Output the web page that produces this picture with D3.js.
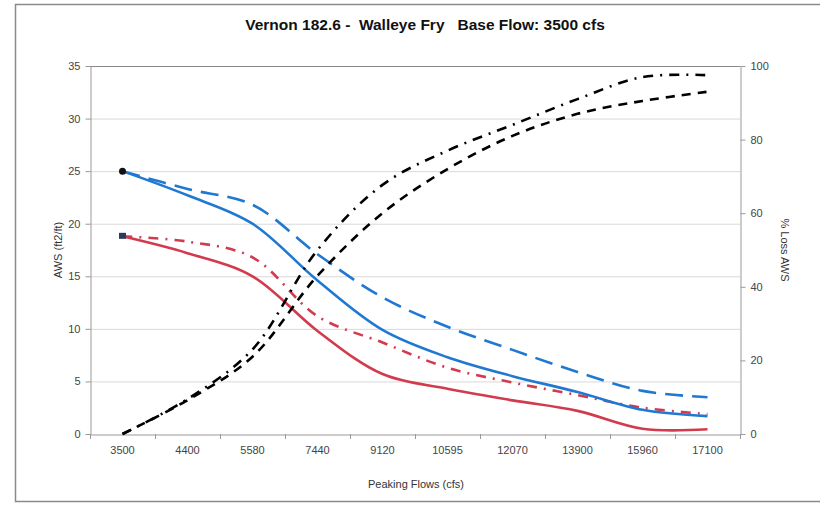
<!DOCTYPE html>
<html>
<head>
<meta charset="utf-8">
<script src="https://cdn.jsdelivr.net/npm/d3@7/dist/d3.min.js"></script>
<style>
  body { margin: 0; background: #fff; }
  svg { display: block; font-family: "Liberation Sans", Arial, sans-serif; }
</style>
</head>
<body>
<svg id="chart" width="820" height="506"></svg>
<script>
const categories = ["3500","4400","5580","7440","9120","10595","12070","13900","15960","17100"];
const awsSolidBlue  = [25, 22.7, 20.0, 14.6, 9.9, 7.3, 5.5, 4.0, 2.3, 1.7];
const awsDashBlue   = [25, 23.3, 21.8, 17.1, 13.0, 10.2, 8.0, 5.9, 4.1, 3.5];
const awsSolidRed   = [18.8, 17.2, 15.0, 9.8, 5.7, 4.3, 3.2, 2.2, 0.5, 0.45];
const awsDashDotRed = [18.8, 18.3, 16.8, 11.2, 8.7, 6.3, 4.9, 3.7, 2.5, 1.9];
const lossDashed    = [0, 9.2, 21, 43, 60, 72, 81, 87, 90.5, 93];
const lossDashDot   = [0, 9.5, 23, 50, 67.7, 77, 84, 91, 97, 97.5];
const leftTicks  = [0, 5, 10, 15, 20, 25, 30, 35];
const rightTicks = [0, 20, 40, 60, 80, 100];

const svg = d3.select("#chart");
const m = {l: 90, r: 740, t: 66, b: 434};

// outer frame
svg.append("rect").attr("x", 15.5).attr("y", 4.5).attr("width", 820).attr("height", 497)
  .attr("fill", "none").attr("stroke", "#8a8a8a").attr("stroke-width", 1.5);

const x = d3.scaleBand().domain(categories).range([m.l, m.r]).padding(0);
const xc = d => x(d) + x.bandwidth() / 2;
const yL = d3.scaleLinear().domain([0, 35]).range([m.b, m.t]);
const yR = d3.scaleLinear().domain([0, 100]).range([m.b, m.t]);

// gridlines
svg.append("g").selectAll("line").data(leftTicks.filter(v => v > 0 && v < 35)).join("line")
  .attr("x1", m.l).attr("x2", m.r).attr("y1", d => yL(d) + 0.5).attr("y2", d => yL(d) + 0.5)
  .attr("stroke", "#d9d9d9").attr("stroke-width", 1);

// plot box top
svg.append("line").attr("x1", m.l).attr("x2", m.r).attr("y1", m.t + 0.5).attr("y2", m.t + 0.5)
  .attr("stroke", "#888").attr("stroke-width", 1.2);

const axisStyle = g => {
  g.selectAll("path").attr("stroke", "#999");
  g.selectAll("line").attr("stroke", "#999");
  g.selectAll("text").attr("fill", "#444").style("font-size", "11px")
    .style("font-family", "'Liberation Sans', Arial, sans-serif");
};

svg.append("g").attr("transform", `translate(${m.l + 0.5},0)`)
  .call(d3.axisLeft(yL).tickValues(leftTicks).tickSize(5).tickSizeOuter(0).tickPadding(5))
  .call(axisStyle);

svg.append("g").attr("transform", `translate(${m.r + 0.5},0)`)
  .call(d3.axisRight(yR).tickValues(rightTicks).tickSize(5).tickSizeOuter(0).tickPadding(5))
  .call(axisStyle);

const xAxis = svg.append("g").attr("transform", `translate(0,${m.b + 0.5})`)
  .call(d3.axisBottom(x).tickSize(0).tickPadding(12))
  .call(axisStyle);
xAxis.selectAll(".tick text").attr("dy", "0.71em");
// boundary tick marks
svg.append("g").selectAll("line").data(d3.range(categories.length + 1)).join("line")
  .attr("x1", i => Math.round(m.l + i * x.bandwidth()) + 0.5)
  .attr("x2", i => Math.round(m.l + i * x.bandwidth()) + 0.5)
  .attr("y1", m.b).attr("y2", m.b + 5).attr("stroke", "#999");

// series
const curve = d3.curveCatmullRom.alpha(0.5);
const lineL = d3.line().x((d, i) => xc(categories[i])).y(d => yL(d)).curve(curve);
const lineR = d3.line().x((d, i) => xc(categories[i])).y(d => yR(d)).curve(curve);

const blue = "#1f78d1", red = "#d23b4e";
const series = [
  {data: awsDashDotRed, gen: lineL, color: red, dash: "10,7,2,7"},
  {data: awsSolidRed, gen: lineL, color: red, dash: null},
  {data: awsDashBlue, gen: lineL, color: blue, dash: "18,9"},
  {data: awsSolidBlue, gen: lineL, color: blue, dash: null},
  {data: lossDashed, gen: lineR, color: "#000", dash: "9,7"},
  {data: lossDashDot, gen: lineR, color: "#000", dash: "10,7,2,7"}
];
series.forEach(s => {
  svg.append("path").attr("d", s.gen(s.data)).attr("fill", "none")
    .attr("stroke", s.color).attr("stroke-width", 2.6)
    .attr("stroke-dasharray", s.dash).attr("stroke-linecap", "butt");
});

// start markers
svg.append("circle").attr("cx", xc(categories[0])).attr("cy", yL(awsSolidBlue[0])).attr("r", 3.5).attr("fill", "#111");
svg.append("rect").attr("x", xc(categories[0]) - 3.5).attr("y", yL(awsSolidRed[0]) - 3.5)
  .attr("width", 7).attr("height", 6).attr("fill", "#2a3c5c");

// titles
svg.append("text").attr("x", 425).attr("y", 30).attr("text-anchor", "middle")
  .style("font-size", "15.5px").style("font-weight", "bold").attr("fill", "#111")
  .attr("xml:space", "preserve")
  .text("Vernon 182.6 -  Walleye Fry   Base Flow: 3500 cfs");

svg.append("text").attr("x", 416).attr("y", 488).attr("text-anchor", "middle")
  .style("font-size", "11px").attr("fill", "#333").text("Peaking Flows (cfs)");

svg.append("text").attr("transform", "translate(62,250) rotate(-90)").attr("text-anchor", "middle")
  .style("font-size", "11px").attr("fill", "#333").text("AWS (ft2/ft)");

svg.append("text").attr("transform", "translate(781,250) rotate(90)").attr("text-anchor", "middle")
  .style("font-size", "11px").attr("fill", "#333").text("% Loss AWS");
</script>
</body>
</html>
